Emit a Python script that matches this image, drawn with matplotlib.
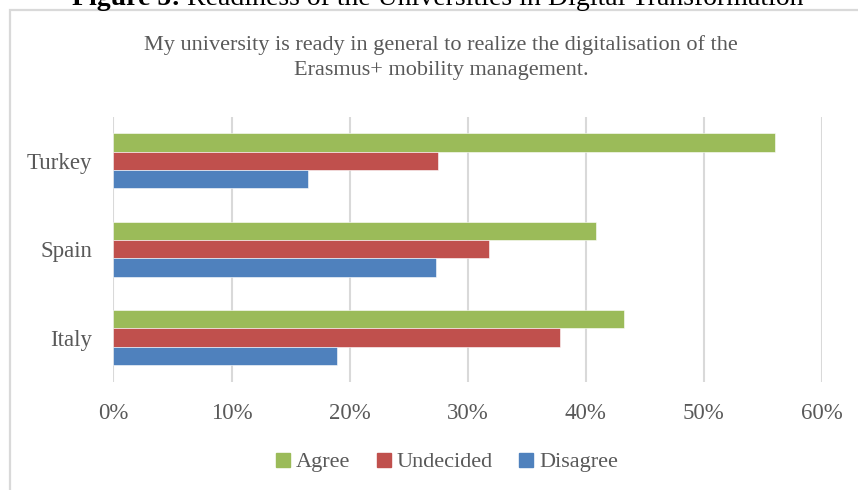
import matplotlib
matplotlib.use("Agg")
import matplotlib.pyplot as plt
from matplotlib.patches import Rectangle
from matplotlib.lines import Line2D
import numpy as np

# data (percent)
countries = ["Italy", "Spain", "Turkey"]
agree = [43.2, 40.9, 56.0]
undecided = [37.8, 31.8, 27.5]
disagree = [18.9, 27.3, 16.5]
series = ["Agree", "Undecided", "Disagree"]
xticks = [0, 10, 20, 30, 40, 50, 60]

COLORS = {"Agree": "#9BBB59", "Undecided": "#C0504D", "Disagree": "#4F81BD"}
TXT = "#595959"
GRID = "#D9D9D9"
FONT = "Liberation Serif"

W, H = 858, 490
fig = plt.figure(figsize=(W / 100, H / 100), dpi=100)
fig.patch.set_facecolor("white")

# chart frame (light gray border, cropped on right/bottom)
fig.patches.append(Rectangle((9.5 / W, -0.05), 1.1, 1 - 9.5 / H + 0.05, transform=fig.transFigure,
                             fill=False, edgecolor=GRID, lw=1.6))

# page caption above the chart (cut off at the top, as in the source page)
r = fig.canvas.get_renderer()
cap_b = fig.text(72 / W, 1 - 5 / H, "Figure 5:", ha="left", va="baseline", fontsize=20,
                 family=FONT, weight="bold", color="black")
bb = cap_b.get_window_extent(renderer=r)
fig.text(bb.x1 / W + 6 / W, 1 - 5 / H, "Readiness of the Universities in Digital Transformation",
         ha="left", va="baseline", fontsize=20, family=FONT, color="black")

ax = fig.add_axes([113.5 / W, 1 - 381.7 / H, (822 - 113.5) / W, (381.7 - 116.7) / H])
y = np.arange(len(countries))
h = 0.207
vals = {"Agree": agree, "Undecided": undecided, "Disagree": disagree}
offs = {"Agree": h, "Undecided": 0, "Disagree": -h}
for s in series:
    ax.barh(y + offs[s], vals[s], height=h, color=COLORS[s], edgecolor="white", lw=0.4, zorder=3)

ax.set_xlim(0, 60)
ax.set_ylim(-0.5, 2.5)
ax.set_xticks(xticks)
ax.set_xticklabels([f"{t}%" for t in xticks], family=FONT, fontsize=16.5, color=TXT)
ax.set_yticks(y)
ax.set_yticklabels(countries, family=FONT, fontsize=16.5, color=TXT)
ax.tick_params(axis="x", length=0, pad=15)
ax.tick_params(axis="y", length=0, pad=15.5)
ax.grid(True, axis="x", color=GRID, lw=1.5, zorder=0)
for sp in ax.spines.values():
    sp.set_visible(False)

fig.text(441 / W, 1 - 45 / H, "My university is ready in general to realize the digitalisation of the",
         ha="center", va="center", fontsize=16, family=FONT, color=TXT)
fig.text(441 / W, 1 - 71 / H, "Erasmus+ mobility management.",
         ha="center", va="center", fontsize=16, family=FONT, color=TXT)

handles = [Line2D([], [], marker="s", ls="none", markersize=9.5, color=COLORS[s]) for s in series]
fig.legend(handles, series, loc="center", bbox_to_anchor=(445 / W, 1 - 462 / H), ncol=3, frameon=False,
           prop={"family": FONT, "size": 16}, labelcolor=TXT, handletextpad=0.1, columnspacing=1.0,
           handlelength=1.0)

fig.savefig("out.png", dpi=100, facecolor="white")
